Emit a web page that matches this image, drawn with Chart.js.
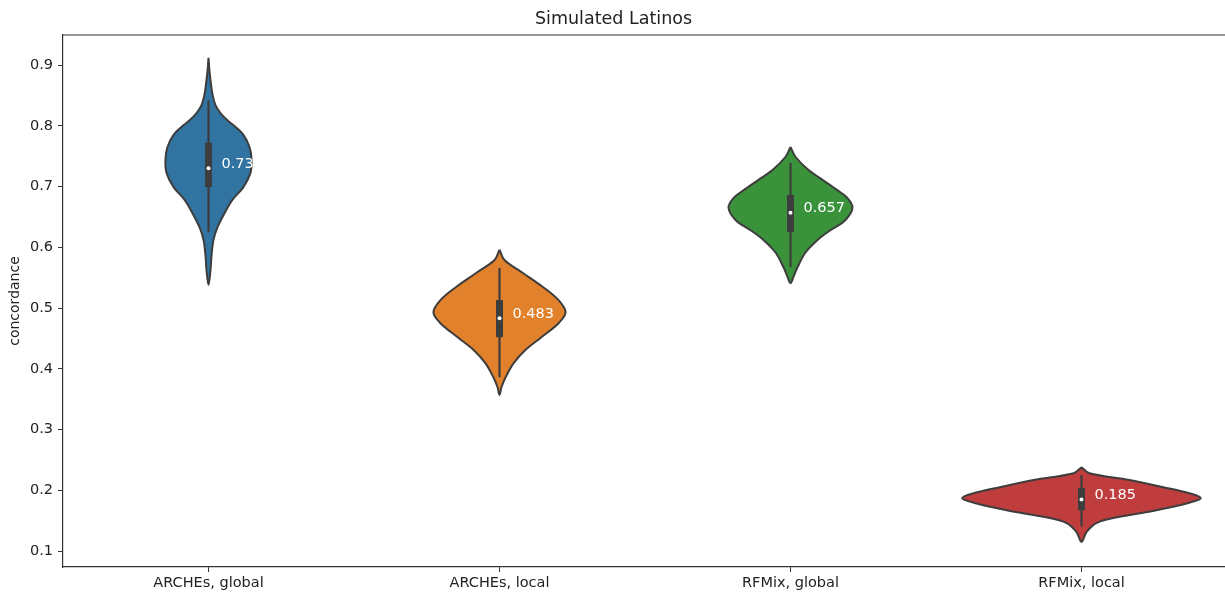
<!DOCTYPE html>
<html>
<head>
<meta charset="utf-8">
<title>Simulated Latinos</title>
<script src="https://cdn.jsdelivr.net/npm/chart.js@4/dist/chart.umd.min.js"></script>
<style>
  html, body { margin: 0; padding: 0; background: #fff; overflow: hidden; }
  #wrap { width: 1232px; height: 593px; }
</style>
</head>
<body>
<div id="wrap"><canvas id="violins" width="1232" height="593"></canvas></div>
<script>
const categories = ['ARCHEs, global', 'ARCHEs, local', 'RFMix, global', 'RFMix, local'];
const yTicks = [0.1, 0.2, 0.3, 0.4, 0.5, 0.6, 0.7, 0.8, 0.9];

// violin outlines: concordance level and half width (in category units) at that level
const archesGlobalLevels = [0.912, 0.892, 0.867, 0.851, 0.834, 0.821, 0.809, 0.798, 0.785, 0.765, 0.744, 0.722, 0.699, 0.678, 0.656, 0.633, 0.612, 0.584, 0.563, 0.538];
const archesGlobalWidths = [0, 0.003, 0.009, 0.014, 0.024, 0.041, 0.065, 0.093, 0.120, 0.141, 0.148, 0.144, 0.120, 0.082, 0.055, 0.031, 0.017, 0.010, 0.007, 0];
const archesLocalLevels = [0.596, 0.579, 0.558, 0.535, 0.513, 0.493, 0.475, 0.452, 0.431, 0.409, 0.386, 0.370, 0.357];
const archesLocalWidths = [0, 0.017, 0.079, 0.148, 0.203, 0.227, 0.203, 0.144, 0.089, 0.048, 0.021, 0.007, 0];
const rfmixGlobalLevels = [0.765, 0.749, 0.727, 0.711, 0.694, 0.681, 0.665, 0.645, 0.628, 0.612, 0.591, 0.567, 0.551, 0.541];
const rfmixGlobalWidths = [0, 0.017, 0.062, 0.110, 0.161, 0.196, 0.213, 0.189, 0.137, 0.093, 0.051, 0.024, 0.010, 0];
const rfmixLocalLevels = [0.238, 0.228, 0.217, 0.205, 0.195, 0.187, 0.179, 0.167, 0.156, 0.146, 0.131, 0.115];
const rfmixLocalWidths = [0, 0.027, 0.165, 0.281, 0.371, 0.410, 0.367, 0.257, 0.127, 0.051, 0.017, 0];

// inner box plot per category
const medians = [0.73, 0.483, 0.657, 0.185];
const q1 = [0.699, 0.452, 0.625, 0.167];
const q3 = [0.772, 0.513, 0.686, 0.204];
const whiskerLow = [0.625, 0.386, 0.567, 0.140];
const whiskerHigh = [0.842, 0.566, 0.739, 0.225];

const fills = ['#3274a1', '#e1812c', '#3a923a', '#c03d3e'];
const edge = '#3d3d3d';

const profiles = [
  [archesGlobalLevels, archesGlobalWidths],
  [archesLocalLevels, archesLocalWidths],
  [rfmixGlobalLevels, rfmixGlobalWidths],
  [rfmixLocalLevels, rfmixLocalWidths]
];

// closed outline: down the right side, back up the left side
function outline(i, levels, widths) {
  const pts = [];
  for (let k = 0; k < levels.length; k++) pts.push({ x: i + widths[k], y: levels[k] });
  for (let k = levels.length - 2; k >= 0; k--) pts.push({ x: i - widths[k], y: levels[k] });
  return pts;
}

// lower order is drawn on top
const datasets = [];
profiles.forEach(([levels, widths], i) => {
  datasets.push({
    type: 'line',
    order: 3,
    data: outline(i, levels, widths),
    backgroundColor: fills[i],
    borderColor: edge,
    borderWidth: 2,
    fill: 'shape',
    tension: 0.35,
    pointRadius: 0
  });
});
categories.forEach((c, i) => {
  datasets.push({
    type: 'line',
    order: 2,
    data: [{ x: i, y: whiskerLow[i] }, { x: i, y: whiskerHigh[i] }],
    borderColor: edge,
    borderWidth: 2.2,
    borderCapStyle: 'butt',
    pointRadius: 0,
    fill: false
  });
  datasets.push({
    type: 'line',
    order: 1,
    data: [{ x: i, y: q1[i] }, { x: i, y: q3[i] }],
    borderColor: edge,
    borderWidth: 7,
    borderCapStyle: 'butt',
    pointRadius: 0,
    fill: false
  });
});
datasets.push({
  type: 'scatter',
  order: 0,
  data: medians.map((m, i) => ({ x: i, y: m })),
  backgroundColor: '#ffffff',
  borderWidth: 0,
  pointRadius: 2
});

// median value next to each box, plus the top/right frame
const extras = {
  id: 'extras',
  afterDatasetsDraw(chart) {
    const { ctx, chartArea, scales } = chart;
    ctx.save();
    ctx.fillStyle = '#ffffff';
    ctx.font = '14.5px "DejaVu Sans"';
    ctx.textBaseline = 'middle';
    medians.forEach((m, i) => {
      ctx.fillText(String(m), scales.x.getPixelForValue(i) + 13, scales.y.getPixelForValue(m) - 4);
    });
    ctx.strokeStyle = '#333';
    ctx.lineWidth = 1.2;
    ctx.beginPath();
    ctx.moveTo(chartArea.left, chartArea.top);
    ctx.lineTo(chartArea.right, chartArea.top);
    ctx.lineTo(chartArea.right, chartArea.bottom);
    ctx.stroke();
    ctx.restore();
  }
};

const tickFont = { family: 'DejaVu Sans', size: 14.5 };

new Chart(document.getElementById('violins'), {
  data: { datasets },
  options: {
    responsive: false,
    animation: false,
    layout: { padding: { left: 0, right: 5, top: 0, bottom: 0 } },
    plugins: {
      legend: { display: false },
      tooltip: { enabled: false },
      title: {
        display: true,
        text: 'Simulated Latinos',
        color: '#222',
        font: { family: 'DejaVu Sans', size: 17.5, weight: 'normal', lineHeight: 1.2 },
        padding: { top: 9, bottom: 5 }
      }
    },
    scales: {
      x: {
        type: 'linear',
        min: -0.5,
        max: 3.5,
        afterBuildTicks: s => { s.ticks = categories.map((c, i) => ({ value: i })); },
        afterFit: s => { s.height = 26; },
        ticks: {
          callback: v => categories[v],
          color: '#222',
          font: tickFont,
          padding: 3,
          maxRotation: 0
        },
        grid: { drawOnChartArea: false, drawTicks: true, tickLength: 5, color: '#333', lineWidth: 1 },
        border: { display: true, color: '#333', width: 1.2 }
      },
      y: {
        type: 'linear',
        min: 0.0737,
        max: 0.9494,
        afterBuildTicks: s => { s.ticks = yTicks.map(v => ({ value: v })); },
        afterFit: s => { s.width = 63; },
        ticks: {
          callback: v => v.toFixed(1),
          color: '#222',
          font: tickFont,
          padding: 5
        },
        title: {
          display: true,
          text: 'concordance',
          color: '#222',
          font: { family: 'DejaVu Sans', size: 14 },
          padding: { top: 7, bottom: 0 }
        },
        grid: { drawOnChartArea: false, drawTicks: true, tickLength: 5, color: '#333', lineWidth: 1 },
        border: { display: true, color: '#333', width: 1.2 }
      }
    }
  },
  plugins: [extras]
});
</script>
</body>
</html>
